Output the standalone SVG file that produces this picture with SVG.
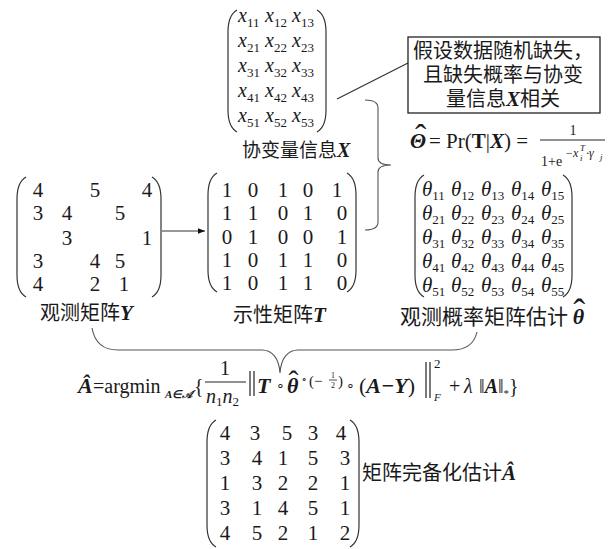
<svg xmlns="http://www.w3.org/2000/svg" width="616" height="549" viewBox="0 0 616 549">
<style>
text{fill:#1a1a1a}
.cjk{font-family:"Noto Sans CJK SC","Noto Sans CJK JP",sans-serif;font-size:20px}
.num{font-family:"Liberation Serif",serif;font-size:21px;text-anchor:middle}
.ser{font-family:"Liberation Serif",serif}
.bi{font-family:"Liberation Serif",serif;font-weight:bold;font-style:italic}
.it{font-family:"Liberation Serif",serif;font-style:italic}
.xe{font-family:"Liberation Serif",serif;font-style:italic;font-size:20px}
.th{font-family:"Liberation Serif",serif;font-style:italic;font-size:21px}
.sub{font-style:normal;font-size:13px}
.hat{font-family:"Liberation Serif",serif;font-weight:normal;font-style:normal}
.paren{fill:none;stroke:#333;stroke-width:1.2}
.conn{fill:none;stroke:#333;stroke-width:1.2}
.brace{fill:none;stroke:#555;stroke-width:1.1}
</style>
<defs>
<marker id="arr" viewBox="0 0 10 10" refX="10" refY="5" markerWidth="7" markerHeight="7" orient="auto" markerUnits="userSpaceOnUse">
<path d="M0,1 L10,5 L0,9 Z" fill="#111"/>
</marker>
</defs>

<g id="connectors">
<line class="conn" x1="337" y1="99" x2="408" y2="63"/>
<line class="conn" x1="162" y1="231" x2="205" y2="231" marker-end="url(#arr)"/>
<path class="brace" d="M365,100 Q378,100 378,108 L378,158 Q378,165 391,165 Q378,165 378,172 L378,222 Q378,230 365,230"/>
<path class="brace" d="M92,328 C95,345 105,350 118,350 L262,350 C272,350 279,358 280,373 C281,358 288,350 298,350 L452,350 C465,350 474,345 477,332"/>
</g>

<g id="node-X">
<path class="paren" d="M237,10 C230,14 228,22 228,32 L228,110 C228,120 230,128 237,132"/>
<path class="paren" d="M317,10 C324,14 326,22 326,32 L326,110 C326,120 324,128 317,132"/>
<text class="xe" x="238" y="22">x<tspan class="sub" dy="5">11</tspan></text>
<text class="xe" x="265" y="22">x<tspan class="sub" dy="5">12</tspan></text>
<text class="xe" x="292" y="22">x<tspan class="sub" dy="5">13</tspan></text>
<text class="xe" x="238" y="47">x<tspan class="sub" dy="5">21</tspan></text>
<text class="xe" x="265" y="47">x<tspan class="sub" dy="5">22</tspan></text>
<text class="xe" x="292" y="47">x<tspan class="sub" dy="5">23</tspan></text>
<text class="xe" x="238" y="72">x<tspan class="sub" dy="5">31</tspan></text>
<text class="xe" x="265" y="72">x<tspan class="sub" dy="5">32</tspan></text>
<text class="xe" x="292" y="72">x<tspan class="sub" dy="5">33</tspan></text>
<text class="xe" x="238" y="97">x<tspan class="sub" dy="5">41</tspan></text>
<text class="xe" x="265" y="97">x<tspan class="sub" dy="5">42</tspan></text>
<text class="xe" x="292" y="97">x<tspan class="sub" dy="5">43</tspan></text>
<text class="xe" x="238" y="122">x<tspan class="sub" dy="5">51</tspan></text>
<text class="xe" x="265" y="122">x<tspan class="sub" dy="5">52</tspan></text>
<text class="xe" x="292" y="122">x<tspan class="sub" dy="5">53</tspan></text>
<text class="cjk" x="242" y="157" style="font-size:19px">协变量信息<tspan class="bi" style="font-size:20px">X</tspan></text>
</g>

<g id="node-note">
<rect x="408" y="37" width="192" height="76" fill="#fff" stroke="#222" stroke-width="1.3"/>
<text class="cjk" text-anchor="middle"><tspan x="503" y="58">假设数据随机缺失，</tspan><tspan x="503" y="82">且缺失概率与协变</tspan><tspan x="503" y="106">量信息<tspan class="bi" style="font-size:21px">X</tspan>相关</tspan></text>
</g>

<g id="node-theta-formula">
<text class="bi" x="410" y="148" style="font-size:21px">Θ<tspan class="hat" dx="-11" dy="0" style="font-size:34px">ˆ</tspan></text>
<text class="ser" x="429" y="148" style="font-size:21px">= Pr(<tspan style="font-weight:bold">T</tspan>|<tspan class="bi">X</tspan>) =</text>
<text class="ser" x="573" y="135" text-anchor="middle" style="font-size:14px">1</text>
<line x1="540" y1="140" x2="605" y2="140" stroke="#222" stroke-width="1"/>
<text class="ser" x="541" y="166" style="font-size:14px">1+e</text>
<text class="it" x="565" y="157" style="font-size:12px">−x</text>
<text class="it" x="580" y="151" style="font-size:9px">T</text>
<text class="it" x="580" y="161" style="font-size:9px">i</text>
<text class="it" x="586" y="157" style="font-size:12px">·γ</text>
<text class="it" x="600" y="160" style="font-size:9px">j</text>
</g>

<g id="node-Y">
<path class="paren" d="M26,177 C19,181 17,189 17,199 L17,275 C17,285 19,293 26,297"/>
<path class="paren" d="M152,177 C159,181 161,189 161,199 L161,275 C161,285 159,293 152,297"/>
<text class="num" x="38" y="197">4</text>
<text class="num" x="95" y="197">5</text>
<text class="num" x="147" y="197">4</text>
<text class="num" x="38" y="220">3</text>
<text class="num" x="67" y="220">4</text>
<text class="num" x="120" y="220">5</text>
<text class="num" x="67" y="245">3</text>
<text class="num" x="147" y="245">1</text>
<text class="num" x="38" y="268">3</text>
<text class="num" x="95" y="268">4</text>
<text class="num" x="120" y="268">5</text>
<text class="num" x="38" y="291">4</text>
<text class="num" x="95" y="291">2</text>
<text class="num" x="124" y="291">1</text>
<text class="cjk" x="40" y="320">观测矩阵<tspan class="bi" style="font-size:21px">Y</tspan></text>
</g>

<g id="node-T">
<path class="paren" d="M217,173 C210,177 208,185 208,195 L208,270 C208,280 210,288 217,292"/>
<path class="paren" d="M347,173 C354,177 356,185 356,195 L356,270 C356,280 354,288 347,292"/>
<text class="num" x="227" y="197">1</text><text class="num" x="253" y="197">0</text><text class="num" x="283" y="197">1</text><text class="num" x="308" y="197">0</text><text class="num" x="337" y="197">1</text>
<text class="num" x="227" y="220">1</text><text class="num" x="253" y="220">1</text><text class="num" x="283" y="220">0</text><text class="num" x="308" y="220">1</text><text class="num" x="342" y="220">0</text>
<text class="num" x="227" y="244">0</text><text class="num" x="253" y="244">1</text><text class="num" x="283" y="244">0</text><text class="num" x="308" y="244">0</text><text class="num" x="342" y="244">1</text>
<text class="num" x="227" y="267">1</text><text class="num" x="253" y="267">0</text><text class="num" x="283" y="267">1</text><text class="num" x="308" y="267">1</text><text class="num" x="342" y="267">0</text>
<text class="num" x="227" y="290">1</text><text class="num" x="253" y="290">0</text><text class="num" x="283" y="290">1</text><text class="num" x="308" y="290">1</text><text class="num" x="342" y="290">0</text>
<text class="cjk" x="233" y="322">示性矩阵<tspan class="bi" style="font-size:21px">T</tspan></text>
</g>

<g id="node-theta">
<path class="paren" d="M424,175 C417,179 415,187 415,197 L415,275 C415,285 417,293 424,297"/>
<path class="paren" d="M563,175 C570,179 572,187 572,197 L572,275 C572,285 570,293 563,297"/>
<text class="th" x="422" y="196">θ<tspan class="sub" dy="4">11</tspan></text>
<text class="th" x="451" y="196">θ<tspan class="sub" dy="4">12</tspan></text>
<text class="th" x="481" y="196">θ<tspan class="sub" dy="4">13</tspan></text>
<text class="th" x="511" y="196">θ<tspan class="sub" dy="4">14</tspan></text>
<text class="th" x="541" y="196">θ<tspan class="sub" dy="4">15</tspan></text>
<text class="th" x="422" y="220">θ<tspan class="sub" dy="4">21</tspan></text>
<text class="th" x="451" y="220">θ<tspan class="sub" dy="4">22</tspan></text>
<text class="th" x="481" y="220">θ<tspan class="sub" dy="4">23</tspan></text>
<text class="th" x="511" y="220">θ<tspan class="sub" dy="4">24</tspan></text>
<text class="th" x="541" y="220">θ<tspan class="sub" dy="4">25</tspan></text>
<text class="th" x="422" y="244">θ<tspan class="sub" dy="4">31</tspan></text>
<text class="th" x="451" y="244">θ<tspan class="sub" dy="4">32</tspan></text>
<text class="th" x="481" y="244">θ<tspan class="sub" dy="4">33</tspan></text>
<text class="th" x="511" y="244">θ<tspan class="sub" dy="4">34</tspan></text>
<text class="th" x="541" y="244">θ<tspan class="sub" dy="4">35</tspan></text>
<text class="th" x="422" y="268">θ<tspan class="sub" dy="4">41</tspan></text>
<text class="th" x="451" y="268">θ<tspan class="sub" dy="4">42</tspan></text>
<text class="th" x="481" y="268">θ<tspan class="sub" dy="4">43</tspan></text>
<text class="th" x="511" y="268">θ<tspan class="sub" dy="4">44</tspan></text>
<text class="th" x="541" y="268">θ<tspan class="sub" dy="4">45</tspan></text>
<text class="th" x="422" y="292">θ<tspan class="sub" dy="4">51</tspan></text>
<text class="th" x="451" y="292">θ<tspan class="sub" dy="4">52</tspan></text>
<text class="th" x="481" y="292">θ<tspan class="sub" dy="4">53</tspan></text>
<text class="th" x="511" y="292">θ<tspan class="sub" dy="4">54</tspan></text>
<text class="th" x="541" y="292">θ<tspan class="sub" dy="4">55</tspan></text>
<text class="cjk" x="400" y="324" style="font-size:21px">观测概率矩阵估计 <tspan class="bi" style="font-size:22px">θ</tspan><tspan class="hat" dx="-11" dy="0" style="font-size:36px">ˆ</tspan></text>
</g>

<g id="node-formula">
<text class="bi" x="78" y="393" style="font-size:22px">Â</text>
<text class="ser" x="93" y="393" style="font-size:20px">=argmin</text>
<text class="bi" x="165" y="398" style="font-size:11px">A∈𝒜</text>
<text class="ser" x="194" y="393" style="font-size:20px">{</text>
<text class="ser" x="225" y="375" text-anchor="middle" style="font-size:20px">1</text>
<line x1="205" y1="382" x2="246" y2="382" stroke="#222" stroke-width="1.1"/>
<text class="it" x="206" y="403" style="font-size:20px">n<tspan class="sub" dy="3">1</tspan><tspan dy="-3">n</tspan><tspan class="sub" dy="3">2</tspan></text>
<line x1="250" y1="371" x2="250" y2="396" stroke="#222" stroke-width="1.2"/>
<line x1="254" y1="371" x2="254" y2="396" stroke="#222" stroke-width="1.2"/>
<text class="bi" x="257" y="393" style="font-size:22px">T</text>
<text class="ser" x="280" y="390" text-anchor="middle" style="font-size:14px">∘</text>
<text class="bi" x="287" y="393" style="font-size:22px">θ<tspan class="hat" dx="-10" dy="-2" style="font-size:30px">ˆ</tspan></text>
<text class="ser" x="304" y="382" text-anchor="middle" style="font-size:10px">∘</text>
<text class="ser" x="309" y="386" style="font-size:15px">(−</text>
<text class="ser" x="333" y="378" text-anchor="middle" style="font-size:8px">1</text>
<line x1="329" y1="380" x2="337" y2="380" stroke="#222" stroke-width="0.8"/>
<text class="ser" x="333" y="388" text-anchor="middle" style="font-size:8px">2</text>
<text class="ser" x="338" y="386" style="font-size:15px">)</text>
<text class="ser" x="350" y="390" text-anchor="middle" style="font-size:14px">∘</text>
<text class="ser" x="359" y="393" style="font-size:22px">(<tspan class="bi">A−Y</tspan>)</text>
<line x1="426" y1="362" x2="426" y2="398" stroke="#222" stroke-width="1.2"/>
<line x1="430" y1="362" x2="430" y2="398" stroke="#222" stroke-width="1.2"/>
<text class="ser" x="434" y="368" style="font-size:13px">2</text>
<text class="it" x="434" y="401" style="font-size:11px">F</text>
<text class="ser" x="449" y="393" style="font-size:20px">+</text>
<text class="it" x="464" y="393" style="font-size:20px">λ</text>
<text class="ser" x="479" y="393" style="font-size:20px">‖<tspan class="bi">A</tspan>‖<tspan class="sub" dy="4" style="font-size:11px">*</tspan><tspan dy="-4">}</tspan></text>
</g>

<g id="node-A">
<path class="paren" d="M216,420 C209,424 207,432 207,442 L207,525 C207,535 209,543 216,547"/>
<path class="paren" d="M350,420 C357,424 359,432 359,442 L359,525 C359,535 357,543 350,547"/>
<text class="num" x="225" y="440">4</text><text class="num" x="255" y="440">3</text><text class="num" x="287" y="440">5</text><text class="num" x="313" y="440">3</text><text class="num" x="341" y="440">4</text>
<text class="num" x="225" y="465">3</text><text class="num" x="257" y="465">4</text><text class="num" x="283" y="465">1</text><text class="num" x="313" y="465">5</text><text class="num" x="345" y="465">3</text>
<text class="num" x="225" y="490">1</text><text class="num" x="257" y="490">3</text><text class="num" x="283" y="490">2</text><text class="num" x="313" y="490">2</text><text class="num" x="345" y="490">1</text>
<text class="num" x="225" y="515">3</text><text class="num" x="257" y="515">1</text><text class="num" x="283" y="515">4</text><text class="num" x="313" y="515">5</text><text class="num" x="345" y="515">1</text>
<text class="num" x="225" y="540">4</text><text class="num" x="257" y="540">5</text><text class="num" x="283" y="540">2</text><text class="num" x="313" y="540">1</text><text class="num" x="345" y="540">2</text>
<text class="cjk" x="362" y="480">矩阵完备化估计<tspan class="bi" style="font-size:21px">Â</tspan></text>
</g>
</svg>
